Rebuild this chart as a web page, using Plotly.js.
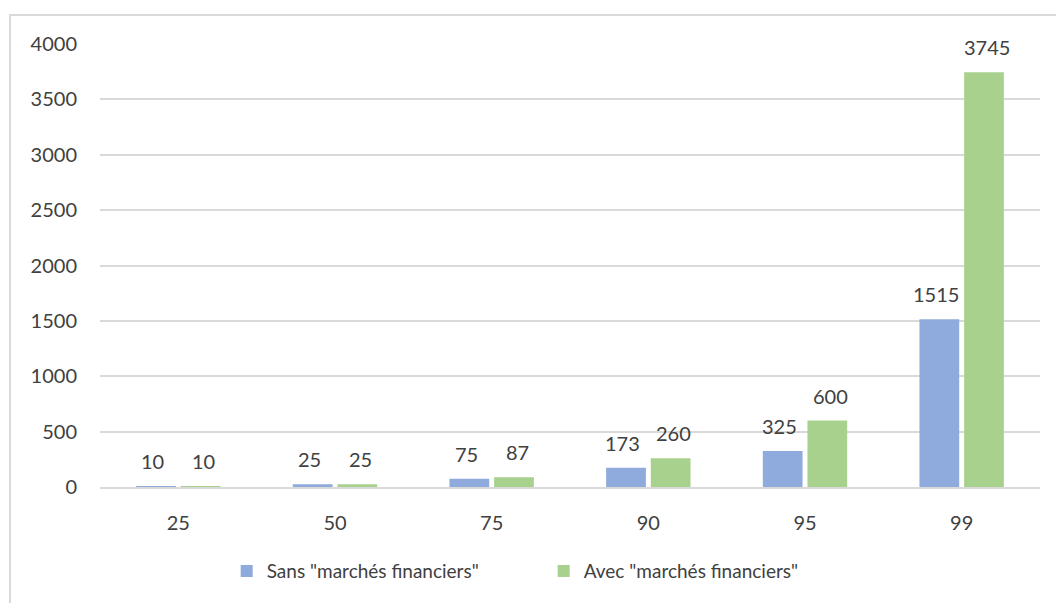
<!DOCTYPE html>
<html>
<head>
<meta charset="utf-8">
<script src="https://cdn.plot.ly/plotly-3.0.1.min.js"></script>
<style>
html,body{margin:0;padding:0;background:#fff;}
#chart{width:1056px;height:603px;position:absolute;left:0;top:0;}
#frame{position:absolute;left:9px;top:14px;width:1100px;height:700px;border:2px solid #d9d9d9;pointer-events:none;}
</style>
</head>
<body>
<div id="chart"></div>
<div id="frame"></div>
<script>
const categories = ["25", "50", "75", "90", "95", "99"];
const sansValues = [10, 25, 75, 173, 325, 1515];
const avecValues = [10, 25, 87, 260, 600, 3745];
const seriesNames = ['Sans "marchés financiers"', 'Avec "marchés financiers"'];
const yTicks = [0, 500, 1000, 1500, 2000, 2500, 3000, 3500, 4000];

const FONT = "Lato, 'Open Sans', sans-serif";
const TXT = "#404040";
const NUM = 20;

const traces = [
  {type: "bar", x: categories, y: sansValues, name: seriesNames[0],
   marker: {color: "#8faadc"}, hoverinfo: "x+y"},
  {type: "bar", x: categories, y: avecValues, name: seriesNames[1],
   marker: {color: "#a9d18e"}, hoverinfo: "x+y"}
];

const annotations = [];
categories.forEach((c, i) => {
  annotations.push({x: i, y: sansValues[i], text: String(sansValues[i]), xref: "x", yref: "y",
    showarrow: false, xshift: -25.5, yanchor: "bottom", yshift: 11,
    font: {family: FONT, size: NUM, color: TXT}});
  annotations.push({x: i, y: avecValues[i], text: String(avecValues[i]), xref: "x", yref: "y",
    showarrow: false, xshift: 25.5, yanchor: "bottom", yshift: 11,
    font: {family: FONT, size: NUM, color: TXT}});
});

const layout = {
  width: 1056, height: 603,
  margin: {l: 100, r: 16, t: 44, b: 116},
  paper_bgcolor: "#ffffff", plot_bgcolor: "#ffffff",
  font: {family: FONT, size: NUM, color: TXT},
  barmode: "group", bargap: 0.43, bargroupgap: 0.11,
  xaxis: {type: "category", range: [-0.5, 5.5], autorange: false, showgrid: false,
    showline: true, linecolor: "#d9d9d9", linewidth: 2,
    ticks: "", ticklabelstandoff: 17, tickfont: {family: FONT, size: NUM, color: TXT}, zeroline: false},
  yaxis: {range: [0, 4000], autorange: false, tickvals: yTicks, showgrid: true, gridcolor: "#d9d9d9", gridwidth: 2,
    zeroline: false, showline: false, ticks: "", ticklabelstandoff: 22,
    tickfont: {family: FONT, size: NUM, color: TXT}},
  showlegend: true,
  legend: {orientation: "h", x: 0.472, xanchor: "center", y: -0.19, yanchor: "middle",
    font: {family: FONT, size: 19, color: TXT}, entrywidth: 272, entrywidthmode: "pixels",
    itemwidth: 30},
  annotations: annotations
};

Plotly.newPlot("chart", traces, layout, {displayModeBar: false, staticPlot: true});
</script>
</body>
</html>
